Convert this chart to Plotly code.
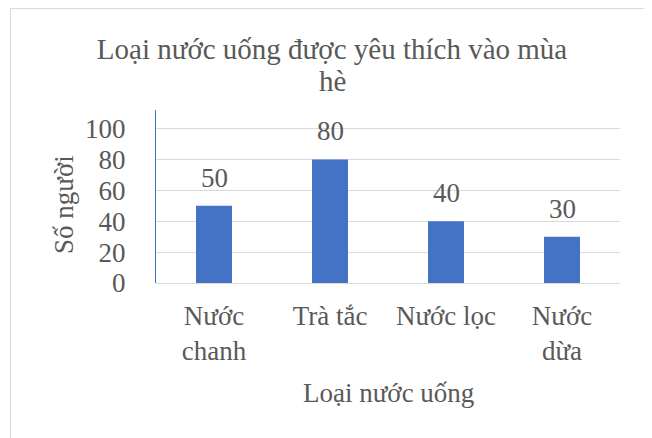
import plotly.graph_objects as go

categories = ["Nước<br>chanh", "Trà tắc", "Nước lọc", "Nước<br>dừa"]
values = [50, 80, 40, 30]
y_ticks = [0, 20, 40, 60, 80, 100]
title_lines = ["Loại nước uống được yêu thích vào mùa", "hè"]

FONT = "Liberation Serif"
GRAY = "#595959"
BLUE = "#4472C4"
FS = 27
OFF = 8  # page body margin

L, R, T, B = 156 - OFF, 32, 110 - OFF, 155
W, H = 652 - OFF, 438 - OFF
pw, ph = W - L - R, H - T - B

def px(x):
    return (x - OFF - L) / pw

def py(y):
    return (H - B - (y - OFF)) / ph

fig = go.Figure()
fig.add_trace(go.Bar(x=categories, y=values, marker=dict(color=BLUE, line=dict(width=0)),
                     width=0.31, hoverinfo="skip"))

for c, v in zip(categories, values):
    fig.add_annotation(x=c, y=v, text=str(v), showarrow=False, yanchor="bottom", yshift=11,
                       font=dict(family=FONT, size=FS, color=GRAY))

fig.add_shape(type="rect", xref="paper", yref="paper", x0=px(10.5), x1=px(647.5), y0=py(8.5), y1=py(445),
              line=dict(color="#d9d9d9", width=1), fillcolor="rgba(0,0,0,0)", layer="below")

fig.add_annotation(xref="paper", yref="paper", x=px(64), y=py(205), text="Số người", textangle=-90,
                   xanchor="center", yanchor="middle",
                   showarrow=False, font=dict(family=FONT, size=FS, color=GRAY))
fig.add_annotation(xref="paper", yref="paper", x=px(388), y=py(393), text="Loại nước uống",
                   xanchor="center", yanchor="middle",
                   showarrow=False, font=dict(family=FONT, size=FS, color=GRAY))
# second title line (Excel wraps the title with tighter line spacing)
fig.add_annotation(xref="paper", yref="paper", x=px(332), y=py(81), text=title_lines[1],
                   xanchor="center", yanchor="middle",
                   showarrow=False, font=dict(family=FONT, size=29, color=GRAY))

fig.update_layout(
    width=W, height=H,
    margin=dict(l=L, r=R, t=T, b=B),
    paper_bgcolor="white", plot_bgcolor="white",
    showlegend=False,
    title=dict(text=title_lines[0], x=(332 - OFF) / W, xref="container",
               xanchor="center", y=1 - (49 - OFF) / H, yref="container", yanchor="middle",
               font=dict(family=FONT, size=29, color=GRAY)),
    font=dict(family=FONT, size=FS, color=GRAY),
    xaxis=dict(showgrid=False, showline=False, zeroline=False, ticks="",
               tickfont=dict(family=FONT, size=FS, color=GRAY), ticklabelstandoff=14),
    yaxis=dict(range=[0, 112], tickvals=y_ticks, showgrid=True, gridcolor="#d9d9d9", gridwidth=1,
               zeroline=True, zerolinecolor="#d9d9d9", zerolinewidth=1,
               showline=True, linecolor=BLUE, linewidth=1,
               ticks="", ticklabelstandoff=24,
               tickfont=dict(family=FONT, size=FS, color=GRAY)),
)

fig.write_html("out.html")
